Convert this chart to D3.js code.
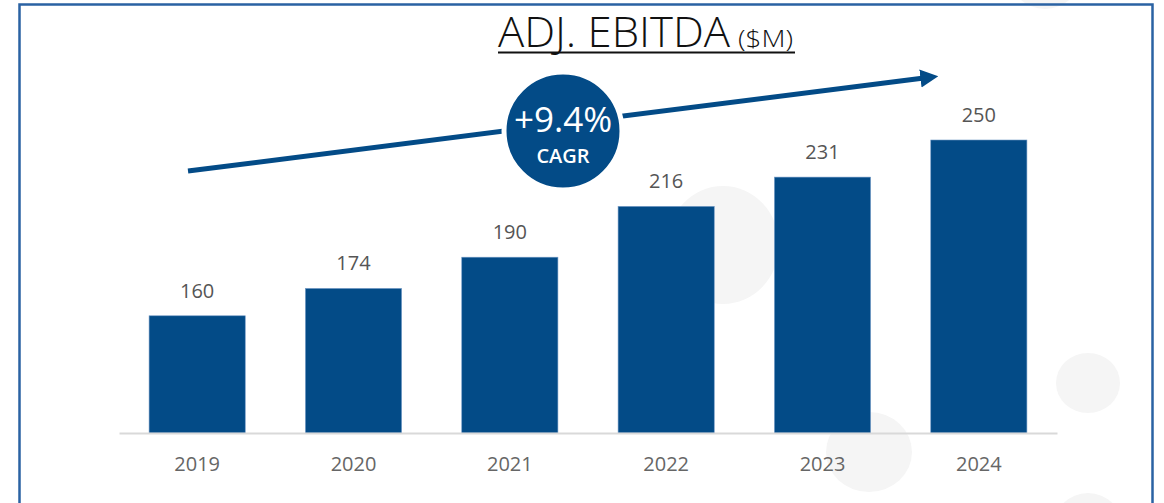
<!DOCTYPE html>
<html>
<head>
<meta charset="utf-8">
<script src="https://cdn.jsdelivr.net/npm/d3@7"></script>
<style>
  html, body { margin: 0; padding: 0; background: #fff; }
  svg { display: block; font-family: "Open Sans", "Noto Sans", sans-serif; }
</style>
</head>
<body>
<div id="chart"></div>
<script>
// data
const years = ["2019", "2020", "2021", "2022", "2023", "2024"];
const ebitda = [160, 174, 190, 216, 231, 250];
const cagrLabel = "+9.4%";

const W = 1164, H = 503;
const barColor = "#034b87";

const svg = d3.select("#chart").append("svg")
  .attr("width", W)
  .attr("height", H);

// faint decorative dots in the background
const dots = [
  { x: 723, y: 245, rx: 56, ry: 59 },
  { x: 869, y: 452, rx: 43, ry: 40 },
  { x: 1088, y: 383, rx: 32, ry: 30 },
  { x: 1088, y: 528, rx: 35, ry: 35 },
  { x: 1045, y: -26, rx: 36, ry: 35 }
];
svg.append("g")
  .selectAll("ellipse")
  .data(dots)
  .join("ellipse")
  .attr("cx", d => d.x)
  .attr("cy", d => d.y)
  .attr("rx", d => d.rx)
  .attr("ry", d => d.ry)
  .attr("fill", "#f5f5f5");

// frame
svg.append("rect")
  .attr("x", 19.5)
  .attr("y", 4.5)
  .attr("width", 1133)
  .attr("height", 520)
  .attr("fill", "none")
  .attr("stroke", "#2a62a3")
  .attr("stroke-width", 2.5);

const x = d3.scaleBand()
  .domain(years)
  .range([119, 1057])
  .paddingInner(0.385)
  .paddingOuter(0.1925);

const y = d3.scaleLinear()
  .domain([100, 250])
  .range([433, 140]);

// bars
svg.append("g")
  .selectAll("rect")
  .data(ebitda)
  .join("rect")
  .attr("x", (d, i) => x(years[i]))
  .attr("y", d => y(d))
  .attr("width", x.bandwidth())
  .attr("height", d => y(100) - y(d))
  .attr("fill", barColor)
  .attr("stroke", "#6f97c4")
  .attr("stroke-width", 0.6);

// baseline
svg.append("g")
  .attr("transform", `translate(0,${y(100)})`)
  .call(d3.axisBottom(x).tickSize(0).tickPadding(24))
  .call(g => g.select(".domain").attr("stroke", "#d9d9d9").attr("stroke-width", 2))
  .call(g => g.selectAll("text")
    .attr("font-family", "\"Open Sans\", sans-serif")
    .attr("font-size", 20)
    .attr("fill", "#666"));

// value labels
svg.append("g")
  .selectAll("text")
  .data(ebitda)
  .join("text")
  .attr("x", (d, i) => x(years[i]) + x.bandwidth() / 2)
  .attr("y", d => y(d) - 18)
  .attr("text-anchor", "middle")
  .attr("font-size", 20)
  .attr("fill", "#555")
  .text(d => d);

// title
svg.append("text")
  .attr("x", 498)
  .attr("y", 47)
  .attr("fill", "#111")
  .attr("font-size", 42)
  .attr("font-weight", 300)
  .attr("textLength", 232)
  .attr("lengthAdjust", "spacingAndGlyphs")
  .text("ADJ. EBITDA");
svg.append("text")
  .attr("x", 738)
  .attr("y", 47)
  .attr("fill", "#111")
  .attr("font-size", 24)
  .attr("font-weight", 300)
  .attr("textLength", 55)
  .attr("lengthAdjust", "spacingAndGlyphs")
  .text("($M)");
svg.append("line")
  .attr("x1", 498).attr("x2", 795)
  .attr("y1", 52.5).attr("y2", 52.5)
  .attr("stroke", "#111")
  .attr("stroke-width", 1.8);

// growth arrow
svg.append("defs").append("marker")
  .attr("id", "head")
  .attr("viewBox", "0 0 10 10")
  .attr("refX", 2)
  .attr("refY", 5)
  .attr("markerWidth", 3.6)
  .attr("markerHeight", 3.8)
  .attr("markerUnits", "strokeWidth")
  .attr("orient", "auto")
  .append("path")
  .attr("d", "M0,0 L10,5 L0,10 Z")
  .attr("fill", barColor);

svg.append("line")
  .attr("x1", 188).attr("y1", 171)
  .attr("x2", 924).attr("y2", 78)
  .attr("stroke", barColor)
  .attr("stroke-width", 5)
  .attr("marker-end", "url(#head)");

// CAGR badge
const badge = svg.append("g").attr("transform", "translate(563,131)");
badge.append("circle")
  .attr("r", 59)
  .attr("fill", barColor)
  .attr("stroke", "#fff")
  .attr("stroke-width", 5);
badge.append("text")
  .attr("y", 1)
  .attr("text-anchor", "middle")
  .attr("font-size", 35)
  .attr("fill", "#fff")
  .text(cagrLabel);
badge.append("text")
  .attr("y", 32)
  .attr("text-anchor", "middle")
  .attr("font-size", 20)
  .attr("font-weight", 600)
  .attr("fill", "#fff")
  .text("CAGR");
</script>
</body>
</html>
